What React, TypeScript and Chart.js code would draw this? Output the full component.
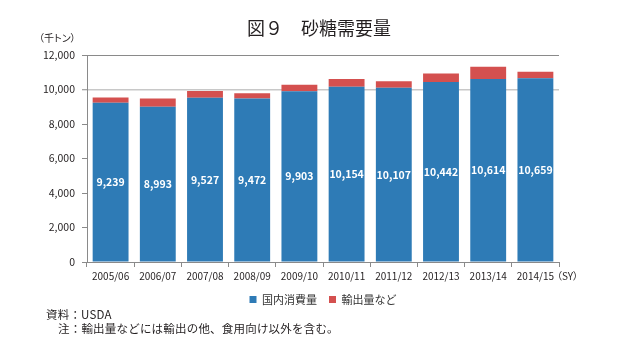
import React, { useEffect, useRef } from "react";
import { Chart, registerables } from "chart.js";

Chart.register(...registerables);

const categories = ["2005/06", "2006/07", "2007/08", "2008/09", "2009/10", "2010/11", "2011/12", "2012/13", "2013/14", "2014/15"];
const domestic = [9239, 8993, 9527, 9472, 9903, 10154, 10107, 10442, 10614, 10659];
const exportsEtc = [290, 480, 390, 310, 370, 460, 370, 480, 700, 370];
const yTicks = [0, 2000, 4000, 6000, 8000, 10000, 12000];
const seriesNames = ["国内消費量", "輸出量など"];
const titleText = "図９　砂糖需要量";
const unitText = "（千トン）";
const xUnitText = "（SY）";
const notes = ["資料：USDA", "注：輸出量などには輸出の他、食用向け以外を含む。"];

const FONT = "'Noto Sans CJK JP', 'Noto Sans', sans-serif";
const TEXT = "#231f20";

export default function App() {
  const ref = useRef<HTMLCanvasElement>(null);

  useEffect(() => {
    if (!ref.current) return;
    const labelPlugin = {
      id: "barLabels",
      afterDatasetsDraw(chart: any) {
        const ctx = chart.ctx;
        const meta = chart.getDatasetMeta(0);
        ctx.save();
        ctx.font = `bold 10.5px ${FONT}`;
        ctx.fillStyle = "#ffffff";
        ctx.textAlign = "center";
        ctx.textBaseline = "middle";
        meta.data.forEach((el: any, i: number) => {
          const p = el.getProps(["x", "y", "base"], true);
          ctx.fillText(domestic[i].toLocaleString("en-US"), p.x, (p.y + p.base) / 2);
        });
        ctx.restore();
      },
    };

    const chart = new Chart(ref.current, {
      type: "bar",
      data: {
        labels: categories,
        datasets: [
          {
            label: seriesNames[0],
            data: domestic,
            backgroundColor: "#2e7bb6",
            borderWidth: 0,
            barPercentage: 0.76,
            categoryPercentage: 1,
          },
          {
            label: seriesNames[1],
            data: exportsEtc,
            backgroundColor: "#d4504f",
            borderWidth: 0,
            barPercentage: 0.76,
            categoryPercentage: 1,
          },
        ],
      },
      options: {
        animation: false,
        responsive: false,
        maintainAspectRatio: false,
        layout: { padding: { left: 8, right: 0, top: 55, bottom: 36 } },
        plugins: {
          title: { display: false },
          tooltip: { enabled: false },
          legend: {
            position: "bottom",
            labels: {
              boxWidth: 7,
              boxHeight: 7,
              padding: 12,
              color: "#333",
              font: { size: 11, family: FONT },
            },
          },
        },
        scales: {
          x: {
            stacked: true,
            grid: {
              offset: true,
              drawOnChartArea: false,
              drawTicks: true,
              tickLength: 5,
              color: "#8a8a8a",
            },
            border: { display: true, color: "#8a8a8a", width: 1 },
            ticks: {
              color: TEXT,
              font: { size: 10, family: FONT },
              padding: 3,
              maxRotation: 0,
              autoSkip: false,
            },
            afterFit: (s: any) => {
              s.height = 20;
            },
          },
          y: {
            stacked: true,
            min: 0,
            max: 12000,
            afterBuildTicks: (s: any) => {
              s.ticks = yTicks.map((v) => ({ value: v }));
            },
            grid: {
              drawTicks: true,
              tickLength: 5,
              tickColor: "#8a8a8a",
              tickWidth: 1,
              color: (c: any) =>
                c.tick && c.tick.value === 10000
                  ? "#c8c8c8"
                  : c.tick && c.tick.value === 12000
                  ? "#8a8a8a"
                  : "rgba(0,0,0,0)",
              lineWidth: (c: any) => (c.tick && c.tick.value === 10000 ? 1.5 : 1),
            },
            border: { display: true, color: "#8a8a8a", width: 1 },
            ticks: {
              color: TEXT,
              padding: 7,
              font: { size: 10.5, family: FONT },
              callback: (v: any) => Number(v).toLocaleString("en-US"),
            },
            afterFit: (s: any) => {
              s.width = 79;
            },
          },
          yR: {
            type: "linear",
            position: "right",
            display: true,
            grid: { display: false, drawTicks: false },
            border: { display: false },
            ticks: { display: false },
            afterFit: (s: any) => {
              s.width = 79;
            },
          },
        },
      },
      plugins: [labelPlugin],
    } as any);

    return () => chart.destroy();
  }, []);

  const base: React.CSSProperties = {
    position: "absolute",
    fontFamily: FONT,
    color: TEXT,
    whiteSpace: "nowrap",
    margin: 0,
  };

  return (
    <div style={{ position: "fixed", left: 0, top: 0, width: 638, height: 351, background: "#fff", overflow: "hidden" }}>
      <canvas ref={ref} width={638} height={351} style={{ position: "absolute", left: 0, top: 0, width: 638, height: 351 }} />
      <div style={{ ...base, left: 0, width: 638, top: 16, textAlign: "center", fontSize: 18, lineHeight: "22px" }}>{titleText}</div>
      <div style={{ ...base, left: 39, top: 31, fontSize: 10, lineHeight: "14px", fontFeatureSettings: '"palt"' }}>{unitText}</div>
      <div style={{ ...base, left: 557, top: 269, fontSize: 10, lineHeight: "14px", fontFeatureSettings: '"palt"' }}>{xUnitText}</div>
      <div style={{ ...base, left: 46, top: 306, fontSize: 11.5, lineHeight: "16px", letterSpacing: "0.2px" }}>{notes[0]}</div>
      <div style={{ ...base, left: 58, top: 320, fontSize: 11.5, lineHeight: "16px", letterSpacing: "0.2px" }}>{notes[1]}</div>
    </div>
  );
}
